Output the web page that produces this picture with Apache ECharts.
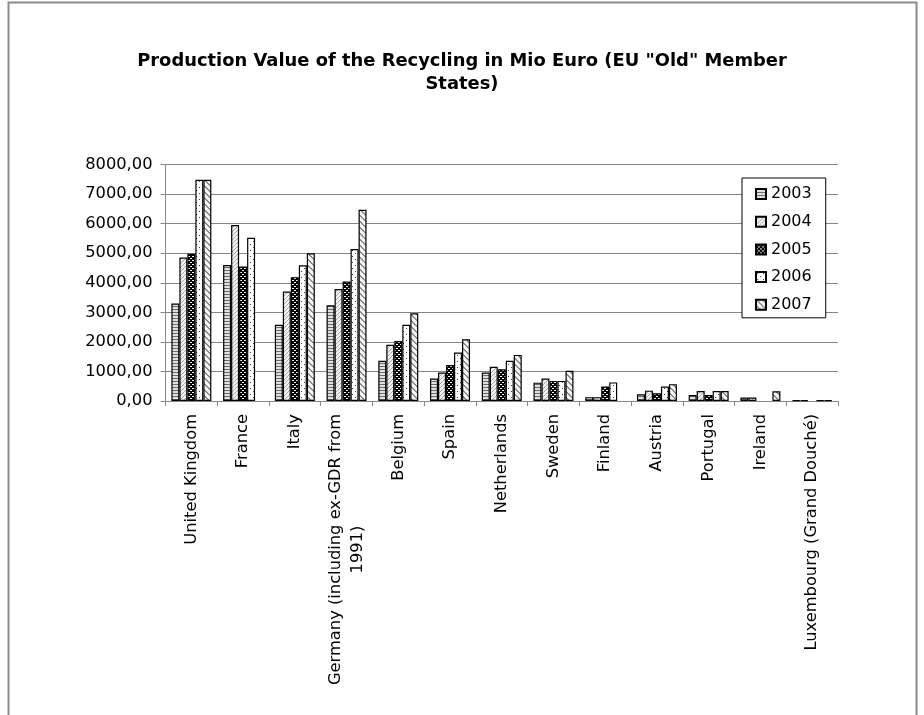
<!DOCTYPE html>
<html><head><meta charset="utf-8">
<script src="https://cdn.jsdelivr.net/npm/echarts@6/dist/echarts.min.js"></script>
<style>html,body{margin:0;padding:0;background:#fff}#c{width:924px;height:715px}</style>
</head><body><div id="c"></div>
<script>
// ---- data ----
const categories = ['United Kingdom', 'France', 'Italy', 'Germany (including ex-GDR from 1991)', 'Belgium', 'Spain', 'Netherlands', 'Sweden', 'Finland', 'Austria', 'Portugal', 'Ireland', 'Luxembourg (Grand Douché)'];
const years = ['2003', '2004', '2005', '2006', '2007'];
const v2003 = [3300, 4600, 2580, 3240, 1360, 760, 960, 620, 130, 230, 200, 120, 20];
const v2004 = [4850, 5950, 3700, 3790, 1900, 960, 1160, 760, 130, 350, 340, 120, 20];
const v2005 = [4980, 4550, 4190, 4040, 2030, 1220, 1070, 680, 490, 260, 200, null, null];
const v2006 = [7480, 5520, 4590, 5140, 2580, 1640, 1360, 680, 630, 490, 340, null, 20];
const v2007 = [7480, null, 5000, 6470, 2970, 2090, 1560, 1020, null, 570, 340, 330, 20];
const yMin = 0, yMax = 8000, yInterval = 1000;

// ---- patterns ----
function tile(w, h, draw) {
  const c = document.createElement('canvas'); c.width = w; c.height = h;
  const g = c.getContext('2d'); draw(g, w, h); return c;
}
const pat2003 = tile(1, 3, (g) => { g.fillStyle = '#e0e0e0'; g.fillRect(0, 0, 1, 3); g.fillStyle = '#6a6a6a'; g.fillRect(0, 0, 1, 1); });
const pat2004 = tile(4, 4, (g) => { g.fillStyle = '#f2f2f2'; g.fillRect(0, 0, 4, 4); g.fillStyle = '#a6a6a6';
  for (let x = 0; x < 4; x++) for (let y = 0; y < 4; y++) if ((x + y) % 4 === 3) g.fillRect(x, y, 1, 1); });
const pat2005 = tile(4, 4, (g) => { g.fillStyle = '#000'; g.fillRect(0, 0, 4, 4); g.fillStyle = '#fff'; g.fillRect(0, 0, 2, 1); g.fillRect(2, 2, 2, 1); });
const pat2006 = tile(6, 6, (g) => { g.fillStyle = '#fff'; g.fillRect(0, 0, 6, 6); g.fillStyle = '#404040'; g.fillRect(1, 1, 1, 1); g.fillRect(4, 4, 1, 1); });
const pat2007 = tile(6, 6, (g) => { g.fillStyle = '#f4f4f4'; g.fillRect(0, 0, 6, 6); g.fillStyle = '#8c8c8c';
  for (let x = 0; x < 6; x++) for (let y = 0; y < 6; y++) if (((x - y) % 6 + 6) % 6 < 2) g.fillRect(x, y, 1, 1); });
const patterns = [pat2003, pat2004, pat2005, pat2006, pat2007];
const values = [v2003, v2004, v2005, v2006, v2007];

const FONT = 'DejaVu Sans';
const LBL = 16.3;
const chart = echarts.init(document.getElementById('c'), null, { renderer: 'canvas' });
chart.setOption({
  animation: false,
  backgroundColor: '#fff',
  title: {
    text: 'Production Value of the Recycling in Mio Euro (EU "Old" Member\nStates)',
    left: 'center', top: 50, padding: 0,
    textStyle: { fontFamily: FONT, fontWeight: 'bold', fontSize: 17.9, lineHeight: 23, color: '#000' }
  },
  graphic: [{
    type: 'rect', shape: { x: 8.5, y: 2.5, width: 908, height: 800 },
    style: { fill: null, stroke: '#8a8a8a', lineWidth: 2 }, silent: true, z: -1
  }],
  legend: {
    orient: 'vertical', left: 742, top: 178, icon: 'rect',
    padding: [7, 14, 4, 13], itemGap: 9.7, itemWidth: 10, itemHeight: 10,
    borderColor: '#000', borderWidth: 1, backgroundColor: '#fff',
    textStyle: { fontFamily: FONT, fontSize: 16, lineHeight: 18, color: '#000' },
    data: years
  },
  grid: { left: 165.5, right: 86, top: 164.5, bottom: 314, containLabel: false },
  xAxis: {
    type: 'category', data: categories,
    axisLine: { lineStyle: { color: '#888', width: 1 } },
    axisTick: { show: true, length: 5, alignWithLabel: false, lineStyle: { color: '#888' } },
    axisLabel: {
      interval: 0, rotate: 90, margin: 13, color: '#000', fontFamily: FONT, fontSize: LBL,
      formatter: function (v) {
        if (v.indexOf('Germany') === 0) return '{a|Germany (including ex-GDR from}\n{a|1991)}';
        return v;
      },
      rich: { a: { align: 'center', fontFamily: FONT, fontSize: LBL, color: '#000', lineHeight: 22 } }
    },
    splitLine: { show: false }
  },
  yAxis: {
    type: 'value', min: yMin, max: yMax, interval: yInterval,
    axisLine: { show: true, lineStyle: { color: '#888', width: 1 } },
    axisTick: { show: true, length: 5, lineStyle: { color: '#888' } },
    axisLabel: {
      margin: 13, color: '#000', fontFamily: FONT, fontSize: LBL,
      formatter: (v) => v.toFixed(2).replace('.', ',')
    },
    splitLine: { lineStyle: { color: '#858585', width: 1.2 } }
  },
  series: years.map((y, i) => ({
    name: y, type: 'bar', data: values[i],
    barGap: '0%', barCategoryGap: '22.7%',
    itemStyle: { color: { image: patterns[i], repeat: 'repeat' }, borderColor: '#000', borderWidth: 1.2 }
  }))
});
</script>
</body></html>
